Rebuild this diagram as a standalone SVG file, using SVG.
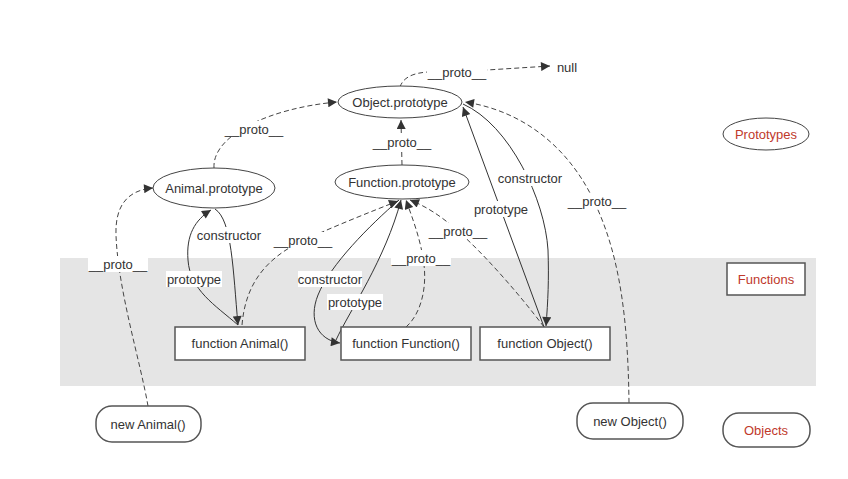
<svg xmlns="http://www.w3.org/2000/svg" width="848" height="479" viewBox="0 0 848 479">
<defs>
<marker id="arr" viewBox="0 0 10 10" refX="10" refY="5" markerWidth="12" markerHeight="9" markerUnits="userSpaceOnUse" orient="auto">
<path d="M0,0 L10,5 L0,10 z" fill="#333"/>
</marker>
<style>
text{font-family:"Liberation Sans",Arial,sans-serif;font-size:13px;fill:#333;text-anchor:middle}
.leg{fill:#c0392b}
.ell{fill:#fff;stroke:#444;stroke-width:1}
.box{fill:#fff;stroke:#555;stroke-width:1.5}
.e{fill:none;stroke:#333;stroke-width:1;marker-end:url(#arr)}
.d{stroke-dasharray:5,3;stroke:#444}
.lb{fill:#fff}
</style>
</defs>
<rect width="848" height="479" fill="#fff"/>
<rect x="60" y="258" width="756" height="128" fill="#e5e5e5"/>

<g id="connectors">
<path class="e d" d="M400,87 C403,78 412,73 428,72 L487,70 L550,66"/>
<path class="e d" d="M214,168 C212,135 270,108 337,102"/>
<path class="e d" d="M402,165 L401,120"/>
<path class="e d" d="M148,406 C140,360 118,290 116,235 C115,205 128,190 153,188"/>
<path class="e" d="M215,209 C232,220 233,270 238,325"/>
<path class="e" d="M238,325 C215,305 190,290 188,260 C186,235 195,220 211,210"/>
<path class="e d" d="M242,325 C245,290 260,262 300,242 C330,228 370,212 398,201"/>
<path class="e" d="M399,200 C370,225 330,265 318,295 C308,320 318,340 340,343"/>
<path class="e" d="M336,340 C350,310 385,260 401,200"/>
<path class="e d" d="M406,327 C420,315 427,290 424,265 C421,240 413,220 406,200"/>
<path class="e d" d="M544,327 C520,295 485,255 458,231 C440,215 425,206 410,200"/>
<path class="e" d="M463,104 C510,125 545,200 548,250 C549,280 548,300 546,326"/>
<path class="e" d="M544,327 L463,107"/>
<path class="e d" d="M629,403 C628,320 620,260 598,210 C575,155 530,112 465,102"/>

<rect class="lb" x="427" y="64" width="60" height="16"/><text x="457" y="77">__proto__</text>
<text x="567" y="72">null</text>
<rect class="lb" x="224" y="121" width="60" height="16"/><text x="254" y="134">__proto__</text>
<rect class="lb" x="372" y="134" width="60" height="16"/><text x="402" y="147">__proto__</text>
<rect class="lb" x="498" y="170" width="64" height="16"/><text x="530" y="183">constructor</text>
<rect class="lb" x="473" y="201" width="56" height="16"/><text x="501" y="214">prototype</text>
<rect class="lb" x="567" y="193" width="60" height="16"/><text x="597" y="206">__proto__</text>
<rect class="lb" x="428" y="223" width="60" height="16"/><text x="458" y="236">__proto__</text>
<rect class="lb" x="391" y="250" width="60" height="16"/><text x="421" y="263">__proto__</text>
<rect class="lb" x="298" y="271" width="64" height="16"/><text x="330" y="284">constructor</text>
<rect class="lb" x="327" y="294" width="56" height="16"/><text x="355" y="307">prototype</text>
<rect class="lb" x="273" y="232" width="60" height="16"/><text x="303" y="245">__proto__</text>
<rect class="lb" x="197" y="227" width="64" height="16"/><text x="229" y="240">constructor</text>
<rect class="lb" x="166" y="271" width="56" height="16"/><text x="194" y="284">prototype</text>
<rect class="lb" x="88" y="256" width="60" height="16"/><text x="118" y="269">__proto__</text>
</g>

<g id="object-prototype"><ellipse class="ell" cx="400" cy="102" rx="62" ry="16"/><text x="400" y="107">Object.prototype</text></g>
<g id="function-prototype"><ellipse class="ell" cx="402" cy="182" rx="67" ry="17"/><text x="402" y="187">Function.prototype</text></g>
<g id="animal-prototype"><ellipse class="ell" cx="214" cy="188" rx="61" ry="20"/><text x="214" y="193">Animal.prototype</text></g>

<g id="function-animal"><rect class="box" x="175" y="327" width="130" height="33"/><text x="240" y="348">function Animal()</text></g>
<g id="function-function"><rect class="box" x="341" y="327" width="130" height="33"/><text x="406" y="348">function Function()</text></g>
<g id="function-object"><rect class="box" x="480" y="327" width="130" height="33"/><text x="545" y="348">function Object()</text></g>

<g id="new-animal"><rect class="box" x="96" y="406" width="105" height="36" rx="16"/><text x="148" y="429">new Animal()</text></g>
<g id="new-object"><rect class="box" x="577" y="403" width="106" height="36" rx="16"/><text x="630" y="426">new Object()</text></g>

<g id="legend-prototypes"><ellipse class="ell" cx="766" cy="134" rx="43" ry="16"/><text class="leg" x="766" y="139">Prototypes</text></g>
<g id="legend-functions"><rect class="box" x="727" y="263" width="78" height="32"/><text class="leg" x="766" y="284">Functions</text></g>
<g id="legend-objects"><rect class="box" x="723" y="413" width="87" height="34" rx="16"/><text class="leg" x="766" y="435">Objects</text></g>
</svg>
